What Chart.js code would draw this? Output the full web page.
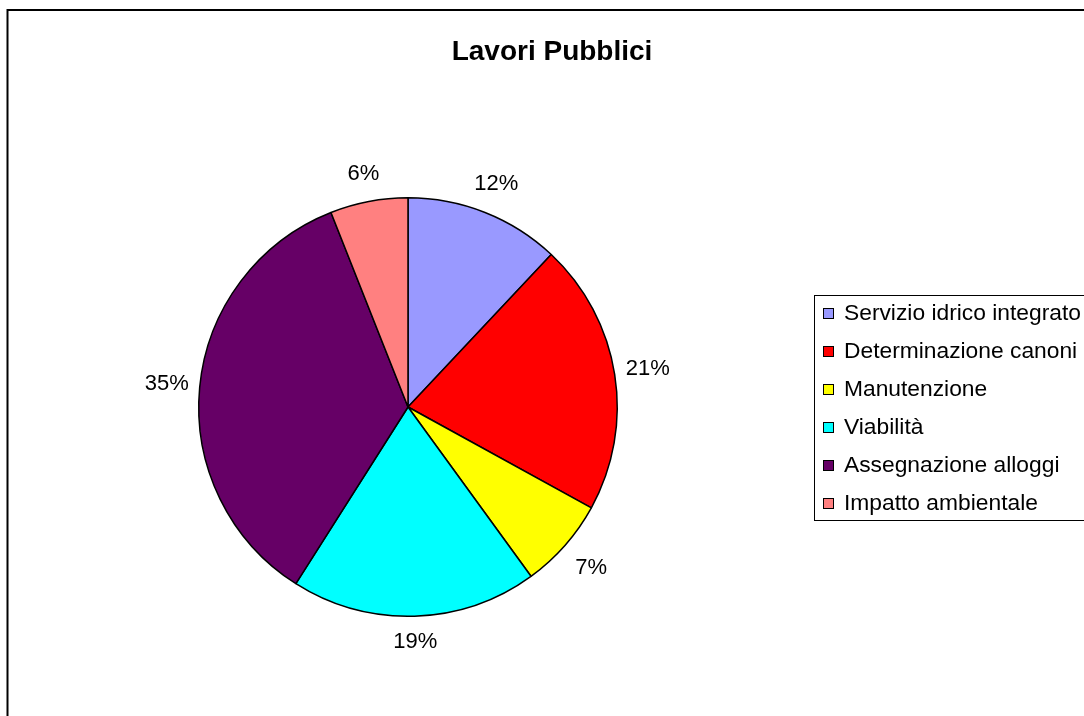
<!DOCTYPE html>
<html>
<head>
<meta charset="utf-8">
<script src="https://cdn.jsdelivr.net/npm/chart.js@4.4.0/dist/chart.umd.min.js"></script>
<style>
  html, body { margin: 0; padding: 0; background: #fff; overflow: hidden; }
  #wrap { position: relative; width: 1084px; height: 716px; }
</style>
</head>
<body>
<div id="wrap"><canvas id="pie-chart"></canvas></div>
<script>
// --- Dati ---
const categories = ['Servizio idrico integrato', 'Determinazione canoni', 'Manutenzione', 'Viabilità', 'Assegnazione alloggi', 'Impatto ambientale'];
const shares = [12, 21, 7, 19, 35, 6];
const chartTitle = 'Lavori Pubblici';

// Colori (palette Excel classica)
const sliceColors = ['#9999ff', '#ff0000', '#ffff00', '#00ffff', '#660066', '#ff8080'];
const FONT = "'Liberation Sans', Arial, sans-serif";

const total = shares.reduce((a, b) => a + b, 0);

// Cornice esterna e titolo
const framePlugin = {
    id: 'frame',
    beforeDraw(chart) {
        const ctx = chart.ctx;
        ctx.save();
        ctx.fillStyle = '#fff';
        ctx.fillRect(0, 0, chart.width, chart.height);
        ctx.strokeStyle = '#000';
        ctx.lineWidth = 2;
        ctx.strokeRect(7.5, 10, chart.width + 20, chart.height + 20);
        ctx.fillStyle = '#000';
        ctx.font = `bold 28px ${FONT}`;
        ctx.textAlign = 'center';
        ctx.textBaseline = 'alphabetic';
        ctx.fillText(chartTitle, 552, 60);
        ctx.restore();
    }
};

// Etichette percentuali fuori dalle fette
const percentLabels = {
    id: 'percentLabels',
    afterDatasetsDraw(chart) {
        const ctx = chart.ctx;
        const meta = chart.getDatasetMeta(0);
        ctx.save();
        ctx.fillStyle = '#000';
        ctx.font = `22px ${FONT}`;
        ctx.textAlign = 'center';
        ctx.textBaseline = 'middle';
        meta.data.forEach((arc, i) => {
            const { x, y, startAngle, endAngle, outerRadius } = arc.getProps(['x', 'y', 'startAngle', 'endAngle', 'outerRadius'], true);
            const a = (startAngle + endAngle) / 2;
            const c = Math.cos(a), s = Math.sin(a);
            const d = outerRadius + 14 + 18 * Math.abs(c) + 11 * Math.abs(s);
            ctx.fillText(Math.round(shares[i] / total * 100) + '%', x + c * d, y + s * d);
        });
        ctx.restore();
    }
};

// Legenda con riquadro (tagliata a destra come nell'originale)
const boxedLegend = {
    id: 'boxedLegend',
    afterDraw(chart) {
        const ctx = chart.ctx;
        const left = 814, top = 295, rowH = 38, firstRow = 313;
        ctx.save();
        ctx.strokeStyle = '#000';
        ctx.lineWidth = 1;
        ctx.strokeRect(left + 0.5, top + 0.5, 320, 225);
        ctx.font = `22.8px ${FONT}`;
        ctx.textAlign = 'left';
        ctx.textBaseline = 'middle';
        categories.forEach((label, i) => {
            const cy = firstRow + i * rowH;
            ctx.fillStyle = sliceColors[i];
            ctx.fillRect(823, Math.round(cy - 5.5), 11, 11);
            ctx.strokeRect(823.5, Math.round(cy - 5.5) + 0.5, 10, 10);
            ctx.fillStyle = '#000';
            ctx.fillText(label, 844, cy + 1);
        });
        ctx.restore();
    }
};

const initializeChart = () => {
    const ctx = document.getElementById('pie-chart').getContext('2d');
    new Chart(ctx, {
        type: 'pie',
        data: {
            labels: categories,
            datasets: [{
                data: shares,
                backgroundColor: sliceColors,
                borderColor: '#000',
                borderWidth: 1.5
            }]
        },
        options: {
            responsive: true,
            maintainAspectRatio: false,
            animation: false,
            events: [],
            layout: { padding: { left: 198, right: 466, top: 197, bottom: 99 } },
            plugins: {
                legend: { display: false },
                title: { display: false },
                tooltip: { enabled: false }
            }
        },
        plugins: [framePlugin, percentLabels, boxedLegend]
    });
};

window.onload = initializeChart;
</script>
</body>
</html>
